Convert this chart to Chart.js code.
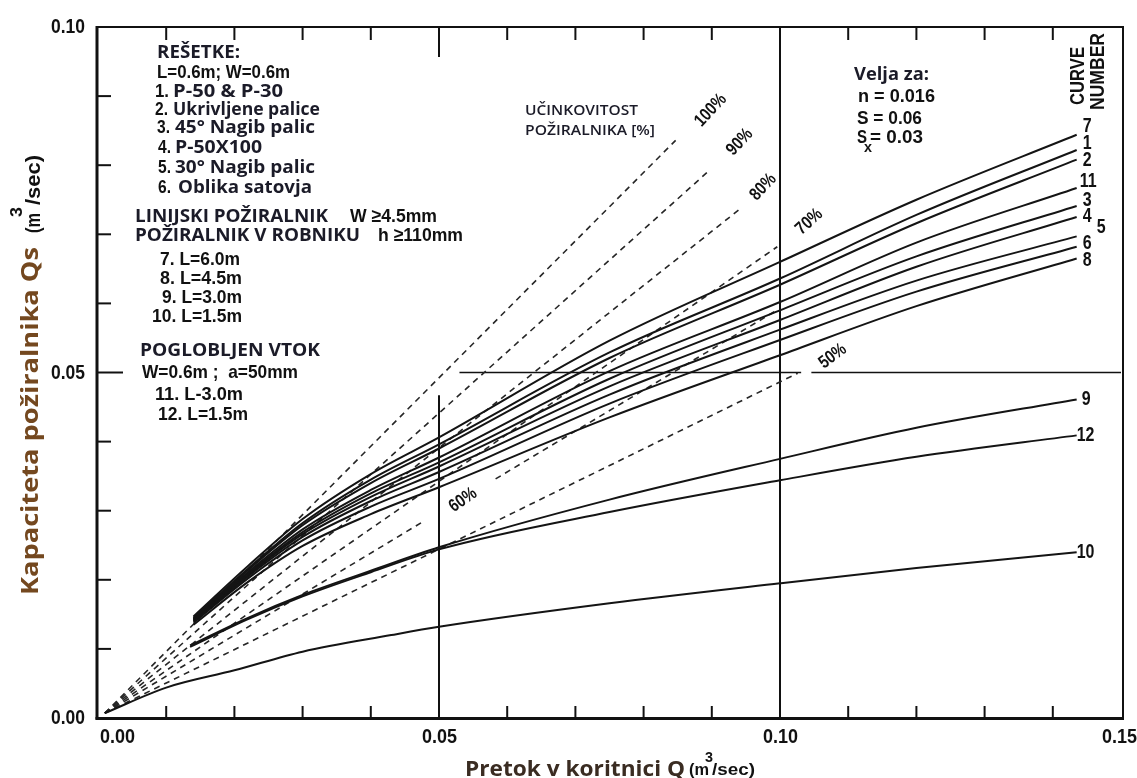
<!DOCTYPE html>
<html>
<head>
<meta charset="utf-8">
<title>Kapaciteta požiralnika</title>
<script src="https://cdn.jsdelivr.net/npm/chart.js@4.4.1/dist/chart.umd.min.js"></script>
<style>
  html, body { margin: 0; padding: 0; background: #fff; }
  #wrap { width: 1137px; height: 778px; position: relative; }
</style>
</head>
<body>
<div id="wrap"><canvas id="chart"></canvas></div>
<script>
const qUpper = [0.014, 0.022, 0.03, 0.04, 0.05, 0.075, 0.10, 0.12, 0.1435];
const curve7 = [0.0147, 0.0220, 0.0288, 0.0353, 0.0406, 0.0546, 0.0660, 0.0750, 0.0844];
const curve1 = [0.0145, 0.0216, 0.0282, 0.0345, 0.0396, 0.0529, 0.0636, 0.0728, 0.0822];
const curve2 = [0.0144, 0.0214, 0.0279, 0.0340, 0.0390, 0.0521, 0.0627, 0.0716, 0.0808];
const curve11 = [0.0143, 0.0211, 0.0273, 0.0330, 0.0377, 0.0502, 0.0602, 0.0688, 0.0767];
const curve3 = [0.0142, 0.0209, 0.0269, 0.0325, 0.0370, 0.0491, 0.0590, 0.0668, 0.0741];
const curve4 = [0.0141, 0.0207, 0.0266, 0.0320, 0.0364, 0.0480, 0.0576, 0.0653, 0.0725];
const curve5 = [0.0140, 0.0205, 0.0262, 0.0314, 0.0356, 0.0468, 0.0562, 0.0633, 0.0697];
const curve6 = [0.0138, 0.0202, 0.0257, 0.0306, 0.0346, 0.0455, 0.0547, 0.0617, 0.0682];
const curve8 = [0.0135, 0.0197, 0.0249, 0.0295, 0.0334, 0.0435, 0.0525, 0.0596, 0.0665];

const qLower = [0.0135, 0.022, 0.03, 0.04, 0.05, 0.075, 0.10, 0.12, 0.1435];
const curve9 = [0.0105, 0.0145, 0.0178, 0.0213, 0.0247, 0.0316, 0.0375, 0.0420, 0.0461];
const curve12 = [0.0103, 0.0143, 0.0176, 0.0211, 0.0244, 0.0298, 0.0344, 0.0378, 0.0409];

const q10 = [0.001, 0.01, 0.02, 0.03, 0.043, 0.05, 0.075, 0.10, 0.12, 0.1435];
const curve10 = [0.0007, 0.0044, 0.0069, 0.0096, 0.0120, 0.0132, 0.0166, 0.0195, 0.0217, 0.0240];

// efficiency lines (dashed), from the origin to their end
const effNames = ['100%', '90%', '80%', '70%', '60%', '50%'];
const effEndQ = [0.0847, 0.0897, 0.0943, 0.0996, 0.0995, 0.1026];
const effEndQs = [0.0836, 0.0793, 0.0738, 0.0682, 0.0590, 0.0499];
// the 60% line is broken where its label sits
const eff60Gap = [[0.0478, 0.0285], [0.0583, 0.0346]];

const curveNames = ['7', '1', '2', '11', '3', '4', '5', '6', '8', '9', '12', '10'];

const xTickValues = [0.01, 0.02, 0.03, 0.04, 0.05, 0.06, 0.07, 0.08, 0.09, 0.11, 0.12, 0.13, 0.14];
const yTickValues = [0.01, 0.02, 0.03, 0.04, 0.05, 0.06, 0.07, 0.08, 0.09];
const xTickLabels = ['0.00', '0.05', '0.10', '0.15'];
const yTickLabels = ['0.00', '0.05', '0.10'];

const FN = '"Liberation Sans", Arial, sans-serif';
const FC = '"Open Sans", "Noto Sans", sans-serif';

const pts = (xs, ys) => xs.map((v, i) => ({ x: v, y: ys[i] }));

const solid = (label, xs, ys) => ({
  label, data: pts(xs, ys), showLine: true, pointRadius: 0,
  borderColor: '#141414', borderWidth: 2, cubicInterpolationMode: 'monotone', fill: false
});

const dashed = (label, data) => ({
  label, data, showLine: true, pointRadius: 0, spanGaps: false,
  borderColor: '#262626', borderWidth: 1.6, borderDash: [6, 5], fill: false
});

const upperSeries = [curve7, curve1, curve2, curve11, curve3, curve4, curve5, curve6, curve8];
const datasets = [];
upperSeries.forEach((ys, i) => datasets.push(solid(curveNames[i], qUpper, ys)));
datasets.push(solid('9', qLower, curve9));
datasets.push(solid('12', qLower, curve12));
datasets.push(solid('10', q10, curve10));

effNames.forEach((name, i) => {
  let data = [{ x: 0.001, y: 0.0007 }, { x: effEndQ[i], y: effEndQs[i] }];
  if (name === '60%') {
    data = [{ x: 0.001, y: 0.0007 }, { x: eff60Gap[0][0], y: eff60Gap[0][1] },
            { x: 0.053, y: null },
            { x: eff60Gap[1][0], y: eff60Gap[1][1] }, { x: effEndQ[i], y: effEndQs[i] }];
  }
  datasets.push(dashed(name, data));
});

// draws text squeezed or stretched to a given width (w) or by a factor (k)
function fitText(ctx, text, x, y, w, font, color, angle, k) {
  ctx.save();
  ctx.font = font;
  ctx.fillStyle = color || '#111';
  ctx.textAlign = 'left';
  ctx.textBaseline = 'alphabetic';
  const m = ctx.measureText(text).width;
  ctx.translate(x, y);
  if (angle) ctx.rotate(angle);
  ctx.scale(w ? w / m : k, 1);
  ctx.fillText(text, 0, 0);
  ctx.restore();
}

function seg(ctx, x0, y0, x1, y1, w) {
  ctx.lineWidth = w;
  ctx.beginPath();
  ctx.moveTo(x0, y0);
  ctx.lineTo(x1, y1);
  ctx.stroke();
}

const refLines = {
  id: 'refLines',
  beforeDatasetsDraw(chart) {
    const { ctx, chartArea: a, scales: { x, y } } = chart;
    ctx.save();
    ctx.strokeStyle = '#111';
    seg(ctx, x.getPixelForValue(0.10), a.top, x.getPixelForValue(0.10), a.bottom, 2);
    seg(ctx, x.getPixelForValue(0.05), y.getPixelForValue(0.0467), x.getPixelForValue(0.05), a.bottom, 2);
    const y05 = y.getPixelForValue(0.05);
    seg(ctx, x.getPixelForValue(0.053), y05, x.getPixelForValue(0.1031), y05, 1.5);
    seg(ctx, x.getPixelForValue(0.1046), y05, a.right, y05, 1.5);
    ctx.restore();
  }
};

const annotate = {
  id: 'annotate',
  afterDatasetsDraw(chart) {
    const { ctx, chartArea: a, scales: { x, y } } = chart;
    ctx.save();
    ctx.strokeStyle = '#111';

    // frame
    seg(ctx, a.left - 1, a.top, a.right + 2, a.top, 2);
    seg(ctx, a.right + 2, a.top - 1, a.right + 2, a.bottom, 2);
    seg(ctx, a.left - 1, a.top - 1, a.left - 1, a.bottom + 1.5, 3);
    seg(ctx, a.left - 2.5, a.bottom + 0.5, a.right + 3, a.bottom + 0.5, 3);

    // inward ticks
    xTickValues.forEach(v => {
      const px = x.getPixelForValue(v);
      seg(ctx, px, a.bottom, px, a.bottom - 12, 2);
      seg(ctx, px, a.top, px, a.top + (v === 0.05 ? 30 : 13), 2);
    });
    yTickValues.forEach(v => {
      const py = y.getPixelForValue(v);
      seg(ctx, a.left, py, a.left + (v === 0.05 ? 25 : 13), py, 2);
    });

    // tick labels
    const tf = `bold 20px ${FN}`;
    yTickLabels.forEach(t => {
      const py = y.getPixelForValue(parseFloat(t));
      fitText(ctx, t, 51, py + 6, 34, tf);
    });
    xTickLabels.forEach((t, i) => {
      const px = x.getPixelForValue(parseFloat(t));
      const left = i === 0 ? px + 2 : (i === 3 ? px - 19 : px - 17);
      fitText(ctx, t, left, 743, 35, tf);
    });

    // axis titles
    fitText(ctx, 'Pretok v koritnici Q', 465, 776, 220, `bold 21px ${FC}`, '#3a2c22');
    fitText(ctx, '(m', 689, 775, 20, `bold 17px ${FN}`);
    fitText(ctx, '3', 705, 762, 8, `bold 14px ${FN}`);
    fitText(ctx, '/sec)', 712, 775, 43, `bold 17px ${FN}`);

    const up = -Math.PI / 2;
    fitText(ctx, 'Kapaciteta požiralnika Qs', 38, 595, 348, `bold 24px ${FC}`, '#74481f', up);
    fitText(ctx, '(m', 40, 233, 20, `bold 20px ${FN}`, '#111', up);
    fitText(ctx, '3', 22, 217, 10, `bold 16px ${FN}`, '#111', up);
    fitText(ctx, '/sec)', 40, 205, 50, `bold 20px ${FN}`, '#111', up);

    // legend text block
    const C18 = `bold 18px ${FC}`, N18 = `bold 19px ${FN}`;
    const dark = '#1b1b28';
    const runs = [
      ['REŠETKE:', 157, 58, 83, C18, dark],
      ['L=0.6m; W=0.6m', 157, 78, 133, N18],
      ['1.', 155, 97, 14, N18], ['P-50 & P-30', 173, 97, 110, C18, dark],
      ['2.', 155, 115, 13, N18], ['Ukrivljene palice', 173, 115, 147, C18, dark],
      ['3.', 157, 133, 13, N18], ['45° Nagib palic', 175, 133, 140, C18, dark],
      ['4.', 158, 153, 13, N18], ['P-50X100', 175, 153, 87, C18, dark],
      ['5.', 158, 173, 13, N18], ['30° Nagib palic', 175, 173, 140, C18, dark],
      ['6.', 158, 193, 13, N18], ['Oblika satovja', 178, 193, 134, C18, dark],
      ['LINIJSKI POŽIRALNIK', 135, 222, 193, C18, dark], ['W ≥4.5mm', 350, 222, 87, N18],
      ['POŽIRALNIK V ROBNIKU', 135, 241, 225, C18, dark], ['h ≥110mm', 378, 241, 85, N18],
      ['7. L=6.0m', 160, 265, 80, N18],
      ['8. L=4.5m', 160, 284, 82, N18],
      ['9. L=3.0m', 162, 303, 80, N18],
      ['10. L=1.5m', 152, 322, 90, N18],
      ['POGLOBLJEN VTOK', 140, 356, 180, C18, dark],
      ['W=0.6m ;  a=50mm', 142, 378, 156, N18],
      ['11. L-3.0m', 155, 400, 88, N18],
      ['12. L=1.5m', 158, 420, 90, N18],
      ['UČINKOVITOST', 525, 115, 113, `600 15px ${FC}`, dark],
      ['POŽIRALNIKA [%]', 525, 135, 130, `600 15px ${FC}`, dark],
      ['Velja za:', 854, 80, 75, `bold 17px ${FC}`, dark],
      ['n = 0.016', 858, 102, 77, N18],
      ['S = 0.06', 857, 124, 65, N18],
      ['S', 857, 143, 10, N18], ['x', 864, 152, 8, `bold 14px ${FN}`], ['= 0.03', 870, 143, 53, N18]
    ];
    runs.forEach(r => fitText(ctx, r[0], r[1], r[2], r[3], r[4], r[5]));

    // CURVE NUMBER heading
    fitText(ctx, 'CURVE', 1084, 105, 58, `bold 20px ${FN}`, '#111', up);
    fitText(ctx, 'NUMBER', 1104, 110, 77, `bold 20px ${FN}`, '#111', up);

    // curve numbers at the line ends
    const nudge = { '7': [6, -3], '1': [6, -1], '2': [6, 6], '11': [3, -1], '3': [6, 0], '4': [6, 5],
                    '5': [20, -3], '6': [6, 2], '8': [6, 8], '9': [5, 6], '12': [0, 6], '10': [0, 6] };
    curveNames.forEach((name, i) => {
      const d = chart.data.datasets[i].data;
      const end = d[d.length - 1];
      const [dx, dy] = nudge[name];
      fitText(ctx, name, x.getPixelForValue(end.x) + dx, y.getPixelForValue(end.y) + dy,
              0, `bold 20px ${FN}`, '#111', 0, 0.8);
    });

    // efficiency labels
    const effPos = { '100%': [35, -30, -47], '90%': [30, -28, -47], '80%': [22, -21, -47],
                     '70%': [32, -25, -42], '60%': [39, -21, -35], '50%': [35, -17, -37] };
    ctx.fillStyle = '#111';
    ctx.textAlign = 'center';
    ctx.textBaseline = 'middle';
    ctx.font = `bold 18px ${FN}`;
    effNames.forEach((name, i) => {
      const ref = name === '60%' ? eff60Gap[0] : [effEndQ[i], effEndQs[i]];
      const [dx, dy, ang] = effPos[name];
      ctx.save();
      ctx.translate(x.getPixelForValue(ref[0]) + dx, y.getPixelForValue(ref[1]) + dy);
      ctx.rotate(ang * Math.PI / 180);
      ctx.scale(0.82, 1);
      ctx.fillText(name, 0, 0);
      ctx.restore();
    });
    ctx.restore();
  }
};

new Chart(document.getElementById('chart').getContext('2d'), {
  type: 'scatter',
  data: { datasets },
  options: {
    responsive: true,
    maintainAspectRatio: false,
    animation: false,
    layout: { padding: { left: 98, right: 16, top: 27, bottom: 60 } },
    plugins: { legend: { display: false }, tooltip: { enabled: false } },
    scales: {
      x: { type: 'linear', min: 0, max: 0.15, display: false },
      y: { type: 'linear', min: 0, max: 0.10, display: false }
    }
  },
  plugins: [refLines, annotate]
});
</script>
</body>
</html>
